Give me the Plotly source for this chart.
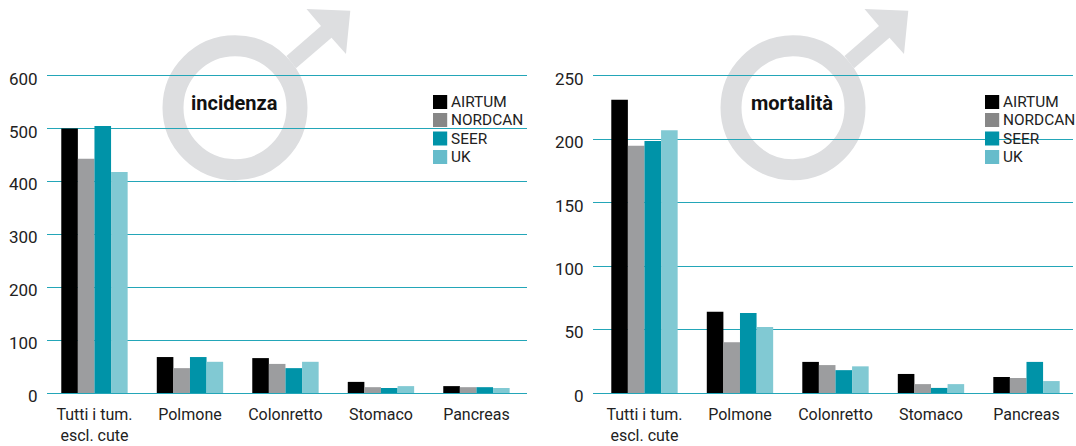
import plotly.graph_objects as go

W, H = 1076, 446
CATEGORIES = ["Tutti i tum.<br>escl. cute", "Polmone", "Colonretto", "Stomaco", "Pancreas"]
SERIES = ["AIRTUM", "NORDCAN", "SEER", "UK"]
BAR_COLORS = ["#000000", "#9c9d9f", "#0093a8", "#81c9d3"]
LEGEND_COLORS = ["#000000", "#878787", "#0093a8", "#66bccb"]

INC_AIRTUM = [500, 68, 66, 21, 13]
INC_NORDCAN = [443, 47, 55, 11, 11]
INC_SEER = [505, 68, 47, 9.5, 11]
INC_UK = [418, 59, 59, 13, 9.5]

MOR_AIRTUM = [231, 64, 24.5, 15, 12.6]
MOR_NORDCAN = [194.7, 40, 22, 7, 11.8]
MOR_SEER = [198.6, 63, 18, 4, 24.5]
MOR_UK = [207, 52, 21, 7, 9.4]

INC_TICKS = [0, 100, 200, 300, 400, 500, 600]
MOR_TICKS = [0, 50, 100, 150, 200, 250]

GRID = "#23a6b8"
TEXT = "#222222"
SYMBOL = "#dddee0"
FONT = "Roboto"


def px(x):
    return x / W


def py(y):
    return 1 - y / H


fig = go.Figure()
for i, s in enumerate(SERIES):
    fig.add_trace(go.Bar(x=CATEGORIES, y=[INC_AIRTUM, INC_NORDCAN, INC_SEER, INC_UK][i],
                         name=s, marker=dict(color=BAR_COLORS[i], line_width=0),
                         xaxis="x", yaxis="y", showlegend=False))
for i, s in enumerate(SERIES):
    fig.add_trace(go.Bar(x=CATEGORIES, y=[MOR_AIRTUM, MOR_NORDCAN, MOR_SEER, MOR_UK][i],
                         name=s, marker=dict(color=BAR_COLORS[i], line_width=0),
                         xaxis="x2", yaxis="y2", showlegend=False))

shapes, annotations = [], []
for dx, title, lx, ltx, tx in [(0, "incidenza", 433, 451, 234.5), (558, "mortalità", 985, 1003, 791.5)]:
    shapes.append(dict(type="circle", xref="paper", yref="paper", layer="below",
                       x0=px(235 + dx - 62), x1=px(235 + dx + 62),
                       y0=py(107.7 + 62), y1=py(107.7 - 62),
                       line=dict(color=SYMBOL, width=21), fillcolor="rgba(0,0,0,0)"))
    arrow = [(286.5, 56), (321, 26), (306.5, 9), (350.3, 10.7), (346, 54), (331.5, 37.7), (296, 68.3)]
    path = "M" + " L".join(f"{px(a + dx):.5f},{py(b):.5f}" for a, b in arrow) + " Z"
    shapes.append(dict(type="path", xref="paper", yref="paper", layer="below", path=path,
                       fillcolor=SYMBOL, line_width=0))
    annotations.append(dict(text=f"<b>{title}</b>", xref="paper", yref="paper", x=px(tx), y=py(103),
                            showarrow=False, xanchor="center", yanchor="middle",
                            font=dict(family=FONT, size=20, color="#111111")))
    for i, s in enumerate(SERIES):
        top = [95, 113, 131.5, 150][i]
        shapes.append(dict(type="rect", xref="paper", yref="paper", layer="above",
                           x0=px(lx), x1=px(lx + 14.2), y0=py(top + 14), y1=py(top),
                           fillcolor=LEGEND_COLORS[i], line_width=0))
        annotations.append(dict(text=s, xref="paper", yref="paper", x=px(ltx), y=py(top + 7),
                                showarrow=False, xanchor="left", yanchor="middle", xshift=-2,
                                font=dict(family=FONT, size=15.4, color=TEXT)))

yaxis_common = dict(automargin=False, showline=False, zeroline=True, zerolinecolor=GRID, zerolinewidth=1,
                    showgrid=True, gridcolor=GRID, gridwidth=1, ticks="outside", ticklen=4,
                    tickcolor="rgba(0,0,0,0)", ticklabelstandoff=1, ticklabelshift=3,
                    tickfont=dict(family=FONT, size=17, color=TEXT))
xaxis_common = dict(automargin=False, showline=False, showgrid=False, zeroline=False, ticks="outside", ticklen=7,
                    tickcolor="rgba(0,0,0,0)", tickangle=0, type="category",
                    tickfont=dict(family=FONT, size=16, color=TEXT))

fig.update_layout(
    width=W, height=H, margin=dict(l=0, r=0, t=0, b=0, pad=0),
    paper_bgcolor="white", plot_bgcolor="rgba(0,0,0,0)",
    barmode="group", bargap=0.305, bargroupgap=0,
    xaxis=dict(domain=[px(47), px(526.5)], anchor="y", range=[-0.497, 4.524], **xaxis_common),
    yaxis=dict(domain=[py(393), py(70.4)], anchor="x", range=[0, 610], tickvals=INC_TICKS, **yaxis_common),
    xaxis2=dict(domain=[px(593), px(1073)], anchor="y2", range=[-0.539, 4.487], **xaxis_common),
    yaxis2=dict(domain=[py(393), py(70.6)], anchor="x2", range=[0, 254], tickvals=MOR_TICKS, **yaxis_common),
    shapes=shapes, annotations=annotations,
)
fig.write_html("out.html", config={"displayModeBar": False},
               post_script="document.body.style.margin='0';document.documentElement.style.overflow='hidden';")
